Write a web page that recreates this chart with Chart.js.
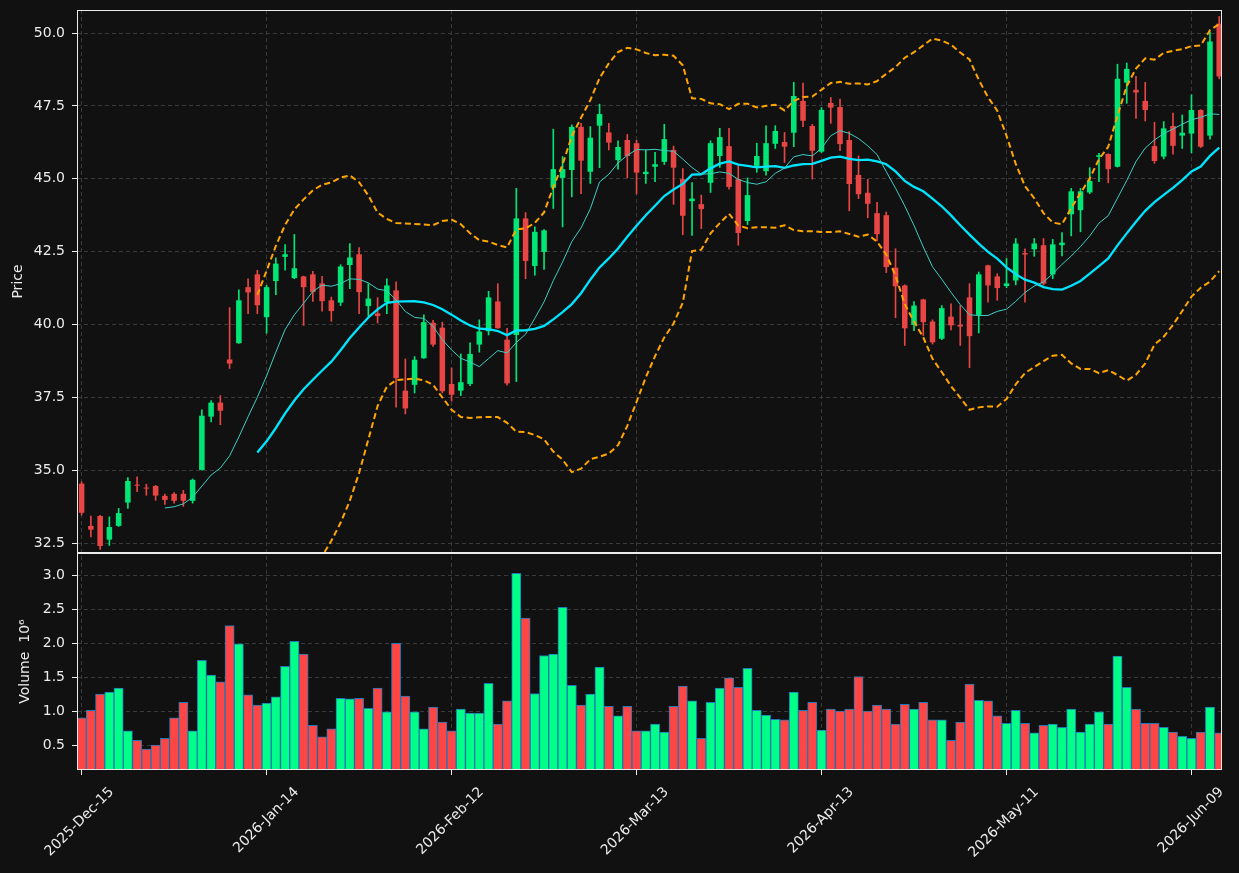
<!DOCTYPE html>
<html>
<head>
<meta charset="utf-8">
<script src="https://cdn.jsdelivr.net/npm/chart.js@4.4.1/dist/chart.umd.min.js"></script>
<style>
  html, body { margin: 0; padding: 0; background: #111111; }
  #wrap { width: 1239px; height: 873px; }
</style>
</head>
<body>
<div id="wrap"><canvas id="chart" width="1239" height="873"></canvas></div>
<script>
// daily OHLC, one entry per trading day starting 2025-Dec-15
const opens = [
  34.54, 33.09, 33.43, 32.62, 33.09, 33.89, 34.50, 34.39, 34.46, 34.12,
  34.19, 34.19, 33.95, 35.01, 36.84, 37.32, 38.80, 39.36, 41.28, 41.72,
  40.25, 41.49, 42.32, 41.59, 41.65, 41.72, 41.41, 40.83, 40.75, 42.04,
  42.41, 40.63, 40.38, 40.77, 41.17, 37.73, 37.93, 38.84, 40.06, 39.89,
  37.96, 37.73, 37.96, 39.31, 39.77, 40.79, 39.48, 39.64, 43.64, 42.01,
  42.49, 44.69, 45.03, 45.30, 46.78, 45.24, 46.82, 46.59, 45.64, 46.33,
  46.22, 45.16, 45.41, 45.58, 45.99, 44.99, 44.23, 44.13, 44.86, 45.78,
  46.12, 44.99, 43.55, 45.44, 45.26, 46.20, 46.26, 46.58, 47.67, 46.81,
  45.93, 47.60, 47.46, 46.33, 45.13, 44.52, 43.82, 43.75, 41.95, 41.34,
  39.99, 40.86, 40.10, 39.51, 40.27, 39.99, 40.93, 40.33, 42.03, 41.65,
  41.32, 41.51, 42.45, 42.58, 42.72, 41.72, 42.72, 43.78, 43.92, 44.53,
  45.75, 45.85, 45.41, 48.30, 48.05, 47.67, 46.12, 45.76, 46.81, 46.48,
  46.55, 47.36, 46.48, 50.32
];
const highs = [
  34.60, 33.43, 33.45, 33.40, 33.69, 34.75, 34.77, 34.52, 34.48, 34.18,
  34.23, 34.31, 34.70, 37.07, 37.39, 37.56, 40.58, 41.19, 41.57, 41.86,
  41.34, 42.29, 42.74, 43.09, 41.66, 41.82, 41.65, 40.94, 42.05, 42.78,
  42.64, 41.40, 40.92, 41.57, 41.46, 38.82, 38.90, 40.33, 40.14, 40.08,
  38.51, 38.99, 39.37, 40.16, 41.14, 41.40, 39.87, 44.67, 43.84, 43.35,
  43.26, 46.70, 45.76, 46.85, 46.90, 46.79, 47.56, 46.90, 46.30, 46.52,
  46.32, 45.99, 45.91, 46.87, 46.12, 45.35, 44.87, 44.44, 46.30, 46.73,
  46.73, 45.45, 45.03, 46.22, 46.82, 46.82, 46.59, 48.31, 48.28, 46.87,
  47.44, 47.79, 47.73, 46.62, 45.78, 44.98, 44.19, 43.86, 42.60, 41.36,
  40.79, 40.87, 40.16, 40.65, 40.71, 40.65, 41.40, 41.80, 42.04, 41.74,
  42.26, 42.95, 42.60, 42.95, 42.95, 42.92, 43.15, 44.67, 44.67, 45.38,
  45.87, 45.86, 48.93, 48.97, 48.51, 48.31, 46.94, 46.96, 47.25, 47.19,
  47.88, 47.37, 50.03, 50.57
];
const lows = [
  33.46, 32.71, 32.28, 32.42, 33.07, 33.69, 34.26, 34.14, 33.97, 33.83,
  33.87, 33.76, 33.87, 35.00, 36.66, 36.56, 38.49, 39.35, 40.37, 40.37,
  39.70, 41.02, 41.86, 41.57, 39.97, 40.79, 40.46, 40.11, 40.65, 41.23,
  40.37, 40.29, 40.05, 40.37, 37.16, 36.93, 37.65, 38.84, 39.25, 37.65,
  37.37, 37.56, 37.90, 39.05, 39.64, 39.87, 37.92, 38.04, 41.57, 41.69,
  41.89, 43.98, 43.35, 44.38, 44.49, 44.84, 45.38, 45.99, 45.33, 45.03,
  44.48, 44.84, 44.90, 45.49, 44.12, 43.08, 43.06, 43.29, 44.53, 45.39,
  44.64, 42.72, 43.43, 45.22, 45.12, 46.04, 45.56, 46.10, 46.79, 44.99,
  45.90, 46.90, 45.96, 43.90, 44.32, 43.66, 42.87, 41.78, 40.23, 39.28,
  39.79, 39.62, 39.33, 39.48, 39.81, 39.28, 38.52, 39.71, 40.77, 40.83,
  41.26, 41.36, 40.77, 42.34, 41.36, 41.57, 42.35, 43.04, 43.18, 44.49,
  44.90, 44.86, 45.40, 47.59, 47.07, 46.98, 45.53, 45.68, 45.84, 46.04,
  45.89, 46.07, 46.36, 48.43
];
const closes = [
  33.54, 32.96, 32.40, 33.05, 33.53, 34.63, 34.47, 34.37, 34.13, 33.98,
  33.95, 33.95, 34.67, 36.87, 37.32, 37.04, 38.66, 40.83, 41.10, 40.66,
  41.28, 42.09, 42.41, 41.93, 41.28, 41.11, 40.80, 40.46, 41.99, 42.30,
  41.11, 40.89, 40.29, 41.34, 38.16, 37.12, 38.79, 40.08, 39.31, 37.71,
  37.59, 38.02, 38.99, 39.76, 40.93, 39.87, 37.98, 43.64, 42.18, 43.18,
  43.23, 45.33, 45.33, 46.78, 45.62, 46.41, 47.22, 46.24, 46.09, 45.78,
  45.21, 45.24, 45.50, 46.36, 45.38, 43.73, 44.32, 43.96, 46.22, 46.43,
  44.72, 43.14, 44.44, 45.78, 46.22, 46.64, 46.10, 47.84, 46.99, 45.96,
  47.36, 47.44, 46.19, 44.82, 44.47, 44.14, 43.10, 41.97, 41.31, 39.87,
  40.65, 40.08, 39.39, 40.56, 39.97, 39.93, 39.60, 41.72, 41.34, 41.25,
  41.41, 42.78, 42.40, 42.78, 41.40, 42.75, 42.81, 44.57, 44.57, 44.92,
  45.81, 45.33, 48.43, 48.77, 47.96, 47.36, 45.61, 46.73, 46.13, 46.58,
  47.36, 46.10, 49.71, 48.51
];
// volume in millions of shares
const volumes = [
  0.90, 1.01, 1.25, 1.28, 1.34, 0.71, 0.57, 0.44, 0.50, 0.60,
  0.90, 1.13, 0.71, 1.75, 1.53, 1.43, 2.26, 1.99, 1.24, 1.09,
  1.12, 1.21, 1.66, 2.03, 1.84, 0.79, 0.62, 0.74, 1.19, 1.18,
  1.19, 1.04, 1.34, 0.99, 2.00, 1.22, 0.99, 0.74, 1.06, 0.84,
  0.71, 1.03, 0.97, 0.97, 1.41, 0.81, 1.15, 3.03, 2.37, 1.26,
  1.82, 1.84, 2.53, 1.38, 1.09, 1.25, 1.65, 1.07, 0.93, 1.07,
  0.71, 0.71, 0.81, 0.69, 1.07, 1.37, 1.15, 0.60, 1.13, 1.34,
  1.49, 1.35, 1.63, 1.01, 0.94, 0.88, 0.87, 1.28, 1.01, 1.13,
  0.72, 1.03, 1.00, 1.03, 1.51, 1.00, 1.09, 1.03, 0.81, 1.10,
  1.03, 1.13, 0.87, 0.87, 0.57, 0.84, 1.40, 1.16, 1.15, 0.93,
  0.82, 1.01, 0.82, 0.68, 0.79, 0.81, 0.76, 1.03, 0.69, 0.81,
  0.99, 0.81, 1.81, 1.35, 1.03, 0.82, 0.82, 0.76, 0.69, 0.63,
  0.60, 0.69, 1.06, 0.68
];
const tickIndex = [0, 20, 40, 60, 80, 100, 120];
const tickLabels = ['2025-Dec-15', '2026-Jan-14', '2026-Feb-12', '2026-Mar-13', '2026-Apr-13', '2026-May-11', '2026-Jun-09'];

const UP = '#00e676', DOWN = '#e84545';
const VOL_UP = '#00ff88', VOL_DOWN = '#ff4646';
const TXT = '#ececec';
const GRID = '#3a3a3a';

const idx = closes.map((c, i) => i);
const isUp = idx.map(i => closes[i] >= opens[i]);

// rolling mean / bollinger from the closes
function sma(n) {
  const out = [];
  for (let i = n - 1; i < closes.length; i++) {
    let s = 0;
    for (let j = i - n + 1; j <= i; j++) s += closes[j];
    out.push({x: i, y: s / n});
  }
  return out;
}
function band(n, k) {
  return sma(n).map(p => {
    let v = 0;
    for (let j = p.x - n + 1; j <= p.x; j++) v += (closes[j] - p.y) ** 2;
    return {x: p.x, y: p.y + k * Math.sqrt(v / n)};
  });
}

Chart.defaults.font.family = "'DejaVu Sans', sans-serif";
Chart.defaults.font.size = 14;
Chart.defaults.color = TXT;

const panes = {
  id: 'panes',
  beforeDraw(chart) {
    const ctx = chart.ctx;
    ctx.save();
    ctx.fillStyle = '#111111';
    ctx.fillRect(0, 0, chart.width, chart.height);
    ctx.restore();
  },
  // keep each dataset inside its own panel
  beforeDatasetDraw(chart, args) {
    const ys = args.meta.yScale, a = chart.chartArea, ctx = chart.ctx;
    ctx.save();
    ctx.beginPath();
    ctx.rect(a.left, ys.top, a.right - a.left, ys.bottom - ys.top);
    ctx.clip();
  },
  afterDatasetDraw(chart) {
    chart.ctx.restore();
  },
  afterDraw(chart) {
    const ctx = chart.ctx, a = chart.chartArea;
    ctx.save();
    ctx.strokeStyle = TXT;
    ctx.lineWidth = 1;
    for (const id of ['y', 'yv']) {
      const s = chart.scales[id];
      ctx.strokeRect(Math.round(a.left) + 0.5, Math.round(s.top) + 0.5,
        Math.round(a.right - a.left) - 1, Math.round(s.bottom - s.top) - 1);
    }
    ctx.restore();
  }
};

const gridOpts = {color: GRID, lineWidth: 1, tickLength: 5, tickColor: TXT, tickWidth: 1, borderDash: [4, 3]};
const noPad = s => { s.paddingTop = 0; s.paddingBottom = 0; s.paddingLeft = 0; s.paddingRight = 0; };

new Chart(document.getElementById('chart'), {
  type: 'bar',
  data: {
    datasets: [
      {
        type: 'line', label: 'SMA 10', data: sma(10), yAxisID: 'y',
        borderColor: '#3ccfc4', borderWidth: 1, pointRadius: 0, tension: 0, order: 0
      },
      {
        type: 'line', label: 'SMA 20', data: sma(20), yAxisID: 'y',
        borderColor: '#00e5ff', borderWidth: 2.3, pointRadius: 0, tension: 0, order: 0
      },
      {
        type: 'line', label: 'BB upper', data: band(20, 2), yAxisID: 'y',
        borderColor: '#ffa500', borderWidth: 2, borderDash: [6, 3.5], pointRadius: 0, tension: 0, order: 0
      },
      {
        type: 'line', label: 'BB lower', data: band(20, -2), yAxisID: 'y',
        borderColor: '#ffa500', borderWidth: 2, borderDash: [6, 3.5], pointRadius: 0, tension: 0, order: 0
      },
      {
        label: 'body', yAxisID: 'y', order: 1, grouped: false,
        data: idx.map(i => ({x: i, y: [opens[i], closes[i]]})),
        backgroundColor: idx.map(i => isUp[i] ? UP : DOWN),
        barPercentage: 0.6, categoryPercentage: 1, minBarLength: 1
      },
      {
        label: 'wick', yAxisID: 'y', order: 2, grouped: false,
        data: idx.map(i => ({x: i, y: [lows[i], highs[i]]})),
        backgroundColor: idx.map(i => isUp[i] ? UP : DOWN),
        barThickness: 1
      },
      {
        label: 'Volume', yAxisID: 'yv', order: 3, grouped: false,
        data: idx.map(i => ({x: i, y: volumes[i]})),
        backgroundColor: idx.map(i => isUp[i] ? VOL_UP : VOL_DOWN),
        borderColor: '#1f77b4', borderWidth: 1,
        barPercentage: 1, categoryPercentage: 1
      }
    ]
  },
  options: {
    responsive: false,
    devicePixelRatio: 1,
    animation: false,
    events: [],
    layout: {padding: {top: 10, right: 17, bottom: 0, left: 0}},
    plugins: {legend: {display: false}, tooltip: {enabled: false}},
    scales: {
      x: {
        type: 'linear', min: -0.5, max: 123.3, offset: false,
        grid: Object.assign({offset: false}, gridOpts),
        border: {display: false, dash: [4, 3]},
        ticks: {
          autoSkip: false, minRotation: 45, maxRotation: 45, padding: 9, labelOffset: 30,
          color: TXT,
          callback: v => { const k = tickIndex.indexOf(v); return k < 0 ? '' : tickLabels[k]; }
        },
        afterBuildTicks: s => { s.ticks = tickIndex.map(v => ({value: v})); },
        afterFit: s => { s.height = 103; noPad(s); }
      },
      yv: {
        type: 'linear', position: 'left', stack: 'panes', stackWeight: 217,
        min: 0.132, max: 3.33,
        grid: gridOpts,
        border: {display: false, dash: [4, 3]},
        ticks: {stepSize: 0.5, includeBounds: false, padding: 7, color: TXT, callback: v => v.toFixed(1)},
        title: {display: true, text: 'Volume  10⁶', color: TXT, font: {size: 14}, padding: {top: 17, bottom: 0}},
        afterFit: s => { s.width = 77; noPad(s); }
      },
      y: {
        type: 'linear', position: 'left', stack: 'panes', stackWeight: 543,
        min: 32.16, max: 50.79,
        grid: gridOpts,
        border: {display: false, dash: [4, 3]},
        ticks: {stepSize: 2.5, includeBounds: false, padding: 7, color: TXT, callback: v => v.toFixed(1)},
        title: {display: true, text: 'Price', color: TXT, font: {size: 14}, padding: {top: 10, bottom: 0}},
        afterFit: s => { s.width = 77; noPad(s); }
      }
    }
  },
  plugins: [panes]
});
</script>
</body>
</html>
